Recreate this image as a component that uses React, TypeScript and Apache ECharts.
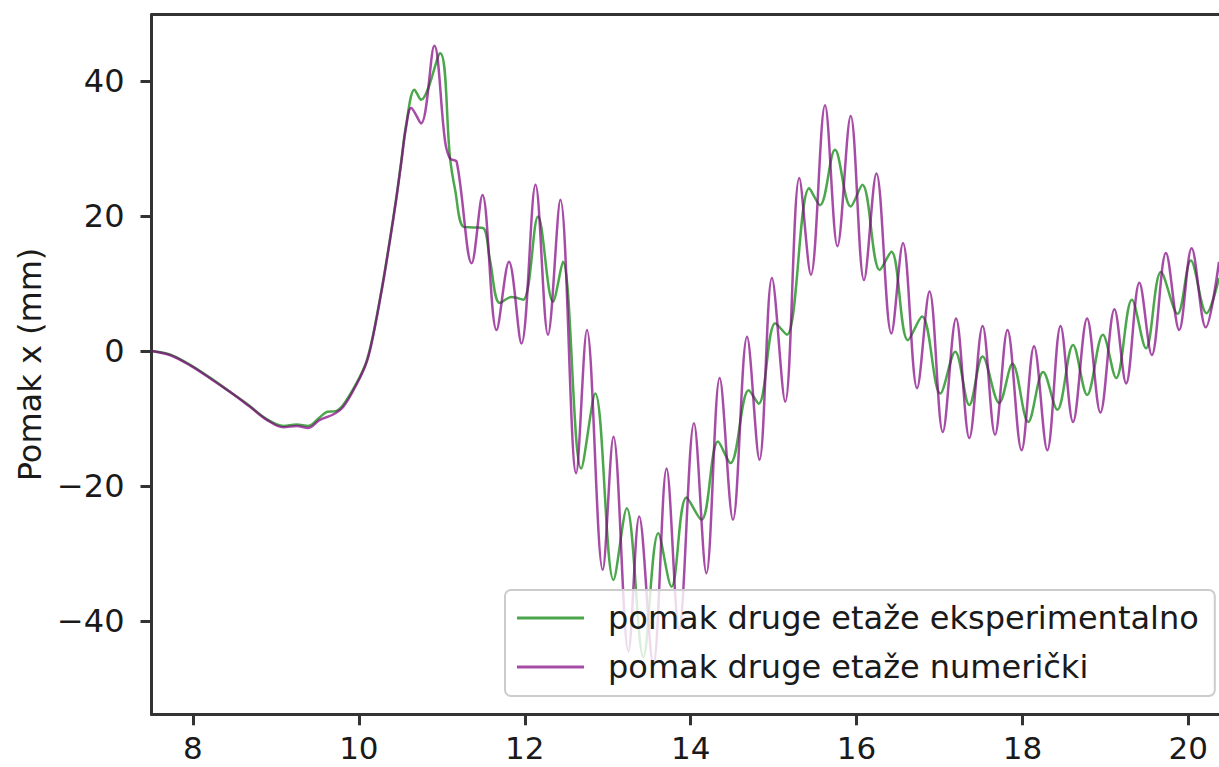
import { useEffect, useRef } from "react";
import * as echarts from "echarts";

const xTicks = [8, 10, 12, 14, 16, 18, 20];
const yTicks = [-40, -20, 0, 20, 40];
const seriesNames = ["pomak druge etaže eksperimentalno", "pomak druge etaže numerički"];

// time (s), displacement (mm)
const experimental: [number, number][] = [
  [7.5, 0], [7.72, -0.5], [7.96, -2.0], [8.2, -3.9], [8.44, -6.0], [8.68, -8.1], [8.89, -10.1],
  [9.09, -11.1], [9.25, -10.9], [9.39, -11.1], [9.53, -9.8], [9.62, -9.0], [9.72, -8.9], [9.81, -8.0],
  [9.97, -4.8], [10.09, -1.6], [10.17, 2.3], [10.29, 10.2], [10.37, 16.2], [10.45, 22.6], [10.51, 28.0],
  [10.57, 33.5], [10.67, 38.7], [10.75, 37.2], [10.98, 44.1], [11.1, 28.5], [11.16, 23.9], [11.26, 18.4],
  [11.38, 18.3], [11.5, 18.2], [11.58, 13.5], [11.7, 7.1], [11.84, 8.0], [11.98, 7.6], [12.16, 19.9],
  [12.34, 7.3], [12.46, 13.2], [12.68, -17.4], [12.85, -6.3], [13.07, -33.9], [13.23, -23.3],
  [13.43, -45.3], [13.61, -27.0], [13.77, -34.9], [13.95, -21.7], [14.13, -25.0], [14.33, -13.4],
  [14.48, -16.6], [14.7, -5.8], [14.82, -7.8], [15.02, 4.1], [15.16, 2.4], [15.43, 24.1], [15.56, 21.6],
  [15.74, 29.8], [15.93, 21.4], [16.07, 24.6], [16.28, 12.0], [16.42, 14.7], [16.62, 1.6], [16.79, 5.1],
  [17.01, -6.3], [17.19, -0.1], [17.36, -8.0], [17.52, -0.8], [17.72, -7.7], [17.88, -1.9],
  [18.07, -10.5], [18.25, -3.1], [18.42, -8.7], [18.61, 0.9], [18.78, -6.5], [18.97, 2.4], [19.13, -4.0],
  [19.32, 7.6], [19.49, 0.4], [19.67, 11.7], [19.87, 5.5], [20.03, 13.4], [20.22, 5.6], [20.37, 10.8],
];

const numerical: [number, number][] = [
  [7.5, 0], [7.72, -0.6], [7.96, -2.1], [8.2, -4.0], [8.44, -6.0], [8.68, -8.2], [8.89, -10.2],
  [9.09, -11.3], [9.25, -11.1], [9.39, -11.4], [9.53, -10.2], [9.69, -9.4], [9.81, -8.3], [9.97, -5.0],
  [10.09, -1.8], [10.17, 2.1], [10.29, 10.0], [10.37, 16.0], [10.45, 22.4], [10.51, 27.8], [10.57, 33.2],
  [10.63, 36.0], [10.75, 33.7], [10.91, 45.2], [11.04, 31.0], [11.1, 28.5], [11.18, 28.0], [11.36, 13.0],
  [11.49, 23.1], [11.66, 3.1], [11.81, 13.2], [11.96, 1.1], [12.13, 24.6], [12.28, 2.4], [12.43, 22.4],
  [12.62, -18.1], [12.75, 3.1], [12.94, -32.4], [13.07, -12.7], [13.25, -44.5], [13.38, -24.5],
  [13.55, -46.5], [13.71, -17.4], [13.86, -41.3], [14.04, -10.7], [14.19, -32.9], [14.35, -4.0],
  [14.51, -25.0], [14.68, 2.1], [14.83, -16.1], [14.98, 10.8], [15.14, -7.5], [15.31, 25.6], [15.45, 11.3],
  [15.62, 36.4], [15.77, 15.5], [15.93, 34.8], [16.09, 10.5], [16.24, 26.3], [16.42, 2.6], [16.56, 16.0],
  [16.73, -5.5], [16.88, 8.8], [17.04, -12.0], [17.2, 4.8], [17.36, -12.9], [17.52, 3.7], [17.67, -12.4],
  [17.82, 3.1], [17.99, -14.7], [18.14, 0.7], [18.3, -14.7], [18.46, 3.7], [18.61, -10.5], [18.78, 4.8],
  [18.94, -9.1], [19.11, 6.2], [19.25, -4.8], [19.41, 10.1], [19.56, -0.6], [19.73, 14.5], [19.89, 3.1],
  [20.04, 15.2], [20.21, 3.5], [20.37, 13.2],
];

export default function App() {
  const ref = useRef<HTMLDivElement>(null);
  useEffect(() => {
    const chart = echarts.init(ref.current!, null, { renderer: "svg" });
    const font = "DejaVu Sans";
    const ink = "#1a1a1a";
    const spine = "#333333";
    chart.setOption({
      animation: false,
      grid: { left: 151.5, top: 14.7, right: 0, bottom: 52.7, containLabel: false },
      xAxis: [
        {
          type: "value",
          min: 7.5,
          max: 20.37,
          axisLine: { show: true, onZero: false, lineStyle: { color: spine, width: 3 } },
          axisTick: { show: true, length: 11, lineStyle: { color: spine, width: 3 }, customValues: xTicks },
          axisLabel: {
            customValues: xTicks,
            margin: 21,
            fontSize: 31,
            lineHeight: 26,
            color: ink,
            fontFamily: font,
          },
          splitLine: { show: false },
        },
        {
          type: "value",
          position: "top",
          min: 7.5,
          max: 20.37,
          axisLine: { show: true, onZero: false, lineStyle: { color: spine, width: 3 } },
          axisTick: { show: false },
          axisLabel: { show: false },
          splitLine: { show: false },
        },
      ],
      yAxis: {
        type: "value",
        min: -53.8,
        max: 49.8,
        axisLine: { show: true, onZero: false, lineStyle: { color: spine, width: 3 } },
        axisTick: { show: true, length: 11, lineStyle: { color: spine, width: 3 }, customValues: yTicks },
        axisLabel: {
          customValues: yTicks,
          margin: 27,
          fontSize: 32,
          color: ink,
          fontFamily: font,
          formatter: (v: number) => String(v).replace("-", "\u2212"),
        },
        splitLine: { show: false },
        name: "Pomak x (mm)",
        nameLocation: "middle",
        nameGap: 100,
        nameTextStyle: { fontSize: 32, color: ink, fontFamily: font },
      },
      legend: {
        orient: "vertical",
        left: 505,
        top: 590,
        data: seriesNames,
        icon: "rect",
        itemWidth: 67,
        itemHeight: 3,
        itemGap: 17,
        padding: [12, 16, 13, 12],
        backgroundColor: "rgba(255,255,255,0.8)",
        borderColor: "#cccccc",
        borderWidth: 2,
        borderRadius: 6,
        selectedMode: false,
        textStyle: { fontSize: 32, color: ink, fontFamily: font, lineHeight: 32, padding: [0, 0, 0, 19] },
      },
      series: [
        {
          name: seriesNames[0],
          type: "line",
          data: experimental,
          showSymbol: false,
          symbol: "none",
          smooth: 0.35,
          color: "rgba(0,128,0,0.7)",
          lineStyle: { width: 2.5, color: "rgba(0,128,0,0.7)" },
        },
        {
          name: seriesNames[1],
          type: "line",
          data: numerical,
          showSymbol: false,
          symbol: "none",
          smooth: 0.35,
          color: "rgba(128,0,128,0.7)",
          lineStyle: { width: 2.5, color: "rgba(128,0,128,0.7)" },
        },
      ],
    });
    return () => chart.dispose();
  }, []);
  return <div ref={ref} style={{ position: "absolute", left: 0, top: 0, width: 1219, height: 767 }} />;
}
